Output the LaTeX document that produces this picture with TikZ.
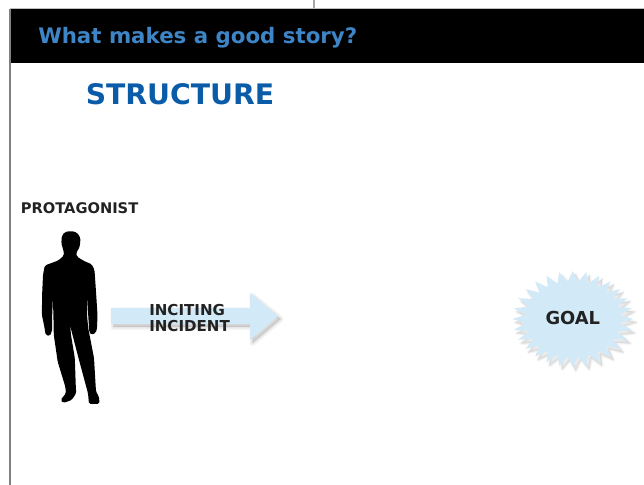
\documentclass[tikz,border=0pt]{standalone}
\usepackage{fontspec}
\setmainfont{DejaVu Sans}
\definecolor{headblue}{HTML}{3D85C6}
\definecolor{titleblue}{HTML}{0B5CA8}
\definecolor{paleblue}{HTML}{D2E9F7}
\definecolor{labelink}{HTML}{222222}
\newcommand{\arrowshape}{(111,308) -- (250,308) -- (250,293) -- (278,316) -- (250,340) -- (250,324) -- (111,324) -- cycle}
\newcommand{\starshape}{plot[samples=57,domain=0:56] ({572.8+(60.5-13.5*mod(round(\x),2))*cos(round(\x)*6.42857)},{319+(48-10.5*mod(round(\x),2))*sin(round(\x)*6.42857)}) -- cycle}
\tikzset{
  x=0.75pt,y=-0.75pt,
  softshade/.style={draw=black,fill=black,opacity=0.014,line join=round},
  frame/.style={draw=#1,line width=0.9pt}
}
\begin{document}
\begin{tikzpicture}
\useasboundingbox (0,0) rectangle (644,485);
% frame lines
\coordinate (v1) at (314,0); \coordinate (v2) at (314,9);
\coordinate (l1) at (10,9); \coordinate (l2) at (10,485);
\coordinate (t2) at (644,9);
\draw[frame=gray!70] (v1) -- (v2);
\draw[frame=gray!50] (l1) -- (t2);
\draw[frame=gray] (l1) -- (l2);
% header
\fill[black] (10.5,9.5) rectangle (644,63);
\node[anchor=west,inner sep=0pt,text=headblue,font=\bfseries\fontsize{16pt}{18pt}\selectfont] (head) at (38,37.5) {What makes a good story?};
\node[anchor=west,inner sep=0pt,text=titleblue,font=\bfseries\fontsize{21.2pt}{26pt}\selectfont] (title) at (85.5,94.3) {STRUCTURE};
\node[anchor=west,inner sep=0pt,font=\bfseries\fontsize{11pt}{12pt}\selectfont,text=labelink] (prot) at (20.5,208) {PROTAGONIST};
% silhouette
\fill[black,rounded corners=1.2pt]
 (71,231) -- (77,232.5) -- (80.5,238) -- (79.8,246.7) -- (76,253.3) -- (77,256.7) -- (84,261) -- (91.7,264.3) -- (94.5,270)
 -- (96,291.7) -- (97.5,315) -- (97,328) -- (96,332.5) -- (91.7,335) -- (89.3,332) -- (88.2,315) -- (87.5,300) -- (87.1,296)
 -- (87,315) -- (88.2,328) -- (94,358) -- (96,391.7) -- (99,396.7) -- (99.5,403.8) -- (89,404) -- (88,393.3) -- (78.5,358) -- (71.5,331) -- (70,324)
 -- (71,335) -- (74.8,358) -- (75.8,386.7) -- (76.2,393.3) -- (71.7,400) -- (63.3,403) -- (60.5,400) -- (66,393.3) -- (65.3,386.7) -- (57.7,361.7) -- (53.8,335) -- (53.4,315) -- (52.9,298)
 -- (52.2,315) -- (52.2,330) -- (50,336) -- (45.7,335) -- (44,325) -- (41.9,315) -- (42.1,295) -- (43,275) -- (44.8,265.5) -- (58.3,260.5) -- (63.8,255.7) -- (63.8,251.7) -- (61.3,243.3) -- (61.9,235.7) -- (65,232) -- cycle;
% arrow
\foreach \w in {0,1,2,3,4,5,6,7}{
  \draw[softshade,line width=\w*0.75pt,shift={(2.5,3)}] \arrowshape;
}
\fill[paleblue] \arrowshape;
\node[anchor=west,inner sep=0pt,align=left,text=labelink,font=\bfseries\fontsize{11.3pt}{12pt}\selectfont] (inc) at (149,317.8) {INCITING\\INCIDENT};
% star
\foreach \w in {0,1,2,3,4}{
  \draw[softshade,opacity=0.016,line width=\w*0.75pt,shift={(3,3.5)}] \starshape;
}
\fill[paleblue] \starshape;
\node[inner sep=0pt,text=labelink,font=\bfseries\fontsize{13.4pt}{15pt}\selectfont] (goal) at (572.8,318) {GOAL};
\end{tikzpicture}
\end{document}
